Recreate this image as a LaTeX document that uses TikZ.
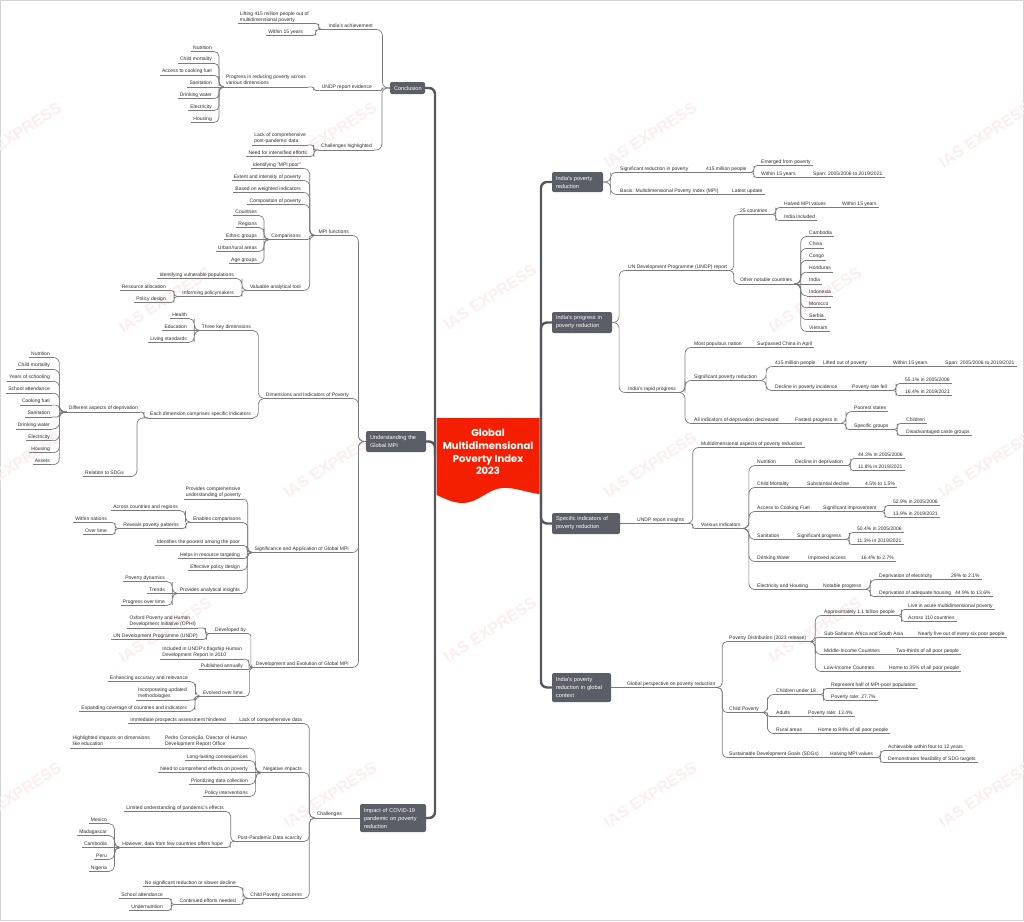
\documentclass[tikz,border=0pt]{standalone}
\usepackage{fontspec}
\setmainfont{Liberation Sans}
\newfontfamily\titlefont{Poppins}
\usetikzlibrary{calc}
\definecolor{txt}{HTML}{2B2B2B}
\definecolor{cnc}{HTML}{7B7B7B}
\definecolor{trunkc}{HTML}{55575F}
\definecolor{boxc}{HTML}{5C5E67}
\definecolor{rootred}{HTML}{F41F00}
\definecolor{wmc}{HTML}{FCEEEE}
\definecolor{framec}{HTML}{D4D4D4}
\tikzset{
 lf/.style={font=\fontsize{5}{6}\selectfont, text=txt, inner xsep=2pt, inner ysep=0.7pt, align=left, execute at end node={\rule[-1.6pt]{0pt}{1pt}}},
 ul/.style={draw=cnc, line width=0.7pt},
 cnline/.style={draw=cnc, line width=0.7pt},
 trunk/.style={draw=trunkc, line width=2.4pt, rounded corners=6pt},
 box/.style={fill=boxc, rounded corners=2pt, text=white, font=\fontsize{5.6}{8}\selectfont, align=left, inner xsep=4pt, inner ysep=2pt},
 wm/.style={text=wmc, font=\fontsize{16}{16}\selectfont\bfseries, rotate=33},
}
\newcommand\nR[4]{\node[lf,anchor=south west] (#1) at ({#2-2},#3) {#4};\draw[ul] (#1.south west)--(#1.south east);}
\newcommand\nL[4]{\node[lf,anchor=south east] (#1) at ({#2+2},#3) {#4};\draw[ul] (#1.south west)--(#1.south east);}
\newcommand\kon[2]{%
  \path (#1) coordinate (cnA) (#2) coordinate (cnB);%
  \pgfpointdiff{\pgfpointanchor{cnA}{center}}{\pgfpointanchor{cnB}{center}}%
  \pgfgetlastxy{\mdx}{\mdy}%
  \pgfmathsetmacro\ady{abs(\mdy)}%
  \pgfmathsetmacro\adx{abs(\mdx)}%
  \ifdim\ady pt<0.8pt
    \draw[cnline] (cnA) -- (cnB);%
  \else
    \pgfmathsetmacro\rr{min(6,\ady/2,\adx/2)}%
    \draw[cnline,rounded corners=\rr pt] (cnA) -| ($(cnA)!.5!(cnB)$) |- (cnB);%
  \fi}
\newcommand\kR[2]{\kon{#1.south east}{#2.south west}}
\newcommand\kL[2]{\kon{#1.south west}{#2.south east}}
\begin{document}
\begin{tikzpicture}[x=1pt,y=-1pt]
\useasboundingbox (0,0) rectangle (1024,921);
\draw[framec, line width=0.8pt] (0.5,0.5) rectangle (1023.5,920.5);
% watermarks
\foreach \wx/\wy [count=\i] in {15/135, 330/135, 650/135, 985/135, 165/300, 490/297, 815/300, 15/465, 330/465, 650/465, 985/465, 165/630, 490/630, 815/630, 15/795, 330/795, 650/795, 985/795}
  {\node[wm] (wm\i) at (\wx,\wy) {IAS EXPRESS};}

% boxes
\node[box, minimum height=12pt, text width=27pt] (L1) at (407.5,88) {Conclusion};
\node[box, minimum height=21pt, text width=52pt] (L2) at (396,441.5) {Understanding the\\Global MPI};
\node[box, minimum height=28pt, text width=58pt] (L3) at (393,818) {Impact of COVID-19\\pandemic on poverty\\reduction};
\node[box, minimum height=20pt, text width=43pt] (B1) at (577.5,182) {India's poverty\\reduction};
\node[box, minimum height=21pt, text width=52pt] (B2) at (582,322.5) {India's progress in\\poverty reduction};
\node[box, minimum height=21pt, text width=60pt] (B3) at (586,523.5) {Specific indicators of\\poverty reduction};
\node[box, minimum height=29pt, text width=51pt] (B4) at (581.5,687.5) {India's poverty\\reduction in global\\context};

% trunks
\draw[trunk] (541,455) |- (B1.west);
\draw[trunk] (541,455) |- (B2.west);
\draw[trunk] (541,455) |- (B3.west);
\draw[trunk] (541,455) |- (B4.west);
\draw[trunk] (435,455) |- (L1.east);
\draw[trunk] (435,455) |- (L2.east);
\draw[trunk] (435,455) |- (L3.east);

% root
\fill[rootred] (436.5,418) -- (539.5,418) -- (539.5,494) .. controls (528,493) and (515,487) .. (502,488) .. controls (488,489) and (478,503) .. (463,503) .. controls (452,503) and (444,498) .. (436.5,495) -- cycle;
\node[font=\titlefont\bfseries\fontsize{10}{12.7}\selectfont, text=white, align=center] (root) at (488,452) {Global\\Multidimensional\\Poverty Index\\2023};

% ===== Right: India's poverty reduction
\nR{a1}{620}{172.5}{Significant reduction in poverty}
\nR{a11}{706}{172.5}{415 million people}
\nR{a111}{761}{165.5}{Emerged from poverty}
\nR{a112}{761}{177.5}{Within 15 years}
\nR{a1121}{813}{177.5}{Span: 2005/2006 to 2019/2021}
\nR{a2}{620}{194.5}{Basis: Multidimensional Poverty Index (MPI)}
\nR{a21}{732}{194.5}{Latest update}
\kon{B1.east}{a1.south west}\kon{B1.east}{a2.south west}
\kR{a1}{a11}\kR{a11}{a111}\kR{a11}{a112}\kR{a112}{a1121}\kR{a2}{a21}

% ===== Right: India's progress
\nR{b1}{628}{270.5}{UN Development Programme (UNDP) report}
\nR{b11}{740}{214.5}{25 countries}
\nR{b111}{784}{207.5}{Halved MPI values}
\nR{b1111}{842}{207.5}{Within 15 years}
\nR{b112}{784}{220.5}{India included}
\nR{b12}{740}{284}{Other notable countries}
\nR{bc1}{809}{236.5}{Cambodia}
\nR{bc2}{809}{248.4}{China}
\nR{bc3}{809}{260.3}{Congo}
\nR{bc4}{809}{272.1}{Honduras}
\nR{bc5}{809}{284}{India}
\nR{bc6}{809}{295.9}{Indonesia}
\nR{bc7}{809}{307.8}{Morocco}
\nR{bc8}{809}{319.6}{Serbia}
\nR{bc9}{809}{331.5}{Vietnam}
\nR{b2}{628}{392.5}{India's rapid progress}
\nR{b21}{694}{347.5}{Most populous nation}
\nR{b211}{757}{347.5}{Surpassed China in April}
\nR{b22}{694}{380.5}{Significant poverty reduction}
\nR{b221}{775}{366.5}{415 million people}
\nR{b2211}{823}{366.5}{Lifted out of poverty}
\nR{b22111}{893}{366.5}{Within 15 years}
\nR{b221111}{945}{366.5}{Span: 2005/2006 to 2019/2021}
\nR{b222}{775}{390.5}{Decline in poverty incidence}
\nR{b2221}{852}{390.5}{Poverty rate fell}
\nR{b22211}{905}{383.5}{55.1\% in 2005/2006}
\nR{b22212}{905}{395.5}{16.4\% in 2019/2021}
\nR{b23}{694}{423.5}{All indicators of deprivation decreased}
\nR{b231}{795}{423.5}{Fastest progress in}
\nR{b2311}{854}{411.5}{Poorest states}
\nR{b2312}{854}{429.5}{Specific groups}
\nR{b23121}{906}{423.5}{Children}
\nR{b23122}{906}{435.5}{Disadvantaged caste groups}
\kon{B2.east}{b1.south west}\kon{B2.east}{b2.south west}
\kR{b1}{b11}\kR{b11}{b111}\kR{b111}{b1111}\kR{b11}{b112}\kR{b1}{b12}
\foreach \i in {1,...,9}{\kR{b12}{bc\i}}
\kR{b2}{b21}\kR{b21}{b211}\kR{b2}{b22}\kR{b22}{b221}\kR{b221}{b2211}\kR{b2211}{b22111}\kR{b22111}{b221111}
\kR{b22}{b222}\kR{b222}{b2221}\kR{b2221}{b22211}\kR{b2221}{b22212}
\kR{b2}{b23}\kR{b23}{b231}\kR{b231}{b2311}\kR{b231}{b2312}\kR{b2312}{b23121}\kR{b2312}{b23122}

% ===== Right: Specific indicators
\nR{c1}{637}{523.5}{UNDP report insights}
\nR{c11}{701}{447.5}{Multidimensional aspects of poverty reduction}
\nR{c12}{701}{528.5}{Various indicators}
\nR{c121}{757}{465.5}{Nutrition}
\nR{c1211}{795}{465.5}{Decline in deprivation}
\nR{c12111}{858}{458.5}{44.3\% in 2005/2006}
\nR{c12112}{858}{470.5}{11.8\% in 2019/2021}
\nR{c122}{757}{487.5}{Child Mortality}
\nR{c1221}{807}{487.5}{Substantial decline}
\nR{c12211}{865}{487.5}{4.5\% to 1.5\%}
\nR{c123}{757}{511.5}{Access to Cooking Fuel}
\nR{c1231}{823}{511.5}{Significant improvement}
\nR{c12311}{893}{505.5}{52.9\% in 2005/2006}
\nR{c12312}{893}{517.5}{13.9\% in 2019/2021}
\nR{c124}{757}{539.5}{Sanitation}
\nR{c1241}{797}{539.5}{Significant progress}
\nR{c12411}{857}{532.5}{50.4\% in 2005/2006}
\nR{c12412}{857}{544.5}{11.3\% in 2019/2021}
\nR{c125}{757}{561.5}{Drinking Water}
\nR{c1251}{808}{561.5}{Improved access}
\nR{c12511}{861}{561.5}{16.4\% to 2.7\%}
\nR{c126}{757}{589.5}{Electricity and Housing}
\nR{c1261}{823}{589.5}{Notable progress}
\nR{c12611}{879}{579.5}{Deprivation of electricity}
\nR{c126111}{951}{579.5}{29\% to 2.1\%}
\nR{c12612}{879}{596.5}{Deprivation of adequate housing}
\nR{c126121}{955}{596.5}{44.9\% to 13.6\%}
\kon{B3.east}{c1.south west}
\kR{c1}{c11}\kR{c1}{c12}
\foreach \i in {1,...,6}{\kR{c12}{c12\i}}
\kR{c121}{c1211}\kR{c1211}{c12111}\kR{c1211}{c12112}
\kR{c122}{c1221}\kR{c1221}{c12211}
\kR{c123}{c1231}\kR{c1231}{c12311}\kR{c1231}{c12312}
\kR{c124}{c1241}\kR{c1241}{c12411}\kR{c1241}{c12412}
\kR{c125}{c1251}\kR{c1251}{c12511}
\kR{c126}{c1261}\kR{c1261}{c12611}\kR{c12611}{c126111}\kR{c1261}{c12612}\kR{c12612}{c126121}

% ===== Right: global context
\nR{d1}{627}{687.5}{Global perspective on poverty reduction}
\nR{d11}{729}{641.5}{Poverty Distribution (2023 release)}
\nR{d111}{824}{615.5}{Approximately 1.1 billion people}
\nR{d1111}{908}{609.5}{Live in acute multidimensional poverty}
\nR{d1112}{908}{621.5}{Across 110 countries}
\nR{d112}{824}{637.5}{Sub-Saharan Africa and South Asia}
\nR{d1121}{918}{637.5}{Nearly five out of every six poor people}
\nR{d113}{824}{654.5}{Middle-Income Countries}
\nR{d1131}{896}{654.5}{Two-thirds of all poor people}
\nR{d114}{824}{671.5}{Low-Income Countries}
\nR{d1141}{889}{671.5}{Home to 35\% of all poor people}
\nR{d12}{729}{712.5}{Child Poverty}
\nR{d121}{776}{694.5}{Children under 18}
\nR{d1211}{831}{688.5}{Represent half of MPI-poor population}
\nR{d1212}{831}{700.5}{Poverty rate: 27.7\%}
\nR{d122}{776}{716.5}{Adults}
\nR{d1221}{808}{716.5}{Poverty rate: 13.4\%}
\nR{d123}{776}{733.5}{Rural areas}
\nR{d1231}{818}{733.5}{Home to 84\% of all poor people}
\nR{d13}{729}{757.5}{Sustainable Development Goals (SDGs)}
\nR{d131}{830}{757.5}{Halving MPI values}
\nR{d1311}{888}{750.5}{Achievable within four to 12 years}
\nR{d1312}{888}{762.5}{Demonstrates feasibility of SDG targets}
\kon{B4.east}{d1.south west}
\kR{d1}{d11}\kR{d11}{d111}\kR{d111}{d1111}\kR{d111}{d1112}\kR{d11}{d112}\kR{d112}{d1121}
\kR{d11}{d113}\kR{d113}{d1131}\kR{d11}{d114}\kR{d114}{d1141}
\kR{d1}{d12}\kR{d12}{d121}\kR{d121}{d1211}\kR{d121}{d1212}\kR{d12}{d122}\kR{d122}{d1221}\kR{d12}{d123}\kR{d123}{d1231}
\kR{d1}{d13}\kR{d13}{d131}\kR{d131}{d1311}\kR{d131}{d1312}

% ===== Left: Conclusion
\nL{e1}{373}{29.5}{India's achievement}
\nL{e11}{309}{23.5}{Lifting 415 million people out of\\multidimensional poverty}
\nL{e12}{303}{35.5}{Within 15 years}
\nL{e2}{372}{90.5}{UNDP report evidence}
\nL{e21}{306}{87}{Progress in reducing poverty across\\various dimensions}
\nL{en1}{212}{51.5}{Nutrition}
\nL{en2}{212}{63.3}{Child mortality}
\nL{en3}{212}{75.2}{Access to cooking fuel}
\nL{en4}{212}{87}{Sanitation}
\nL{en5}{212}{98.8}{Drinking water}
\nL{en6}{212}{110.7}{Electricity}
\nL{en7}{212}{122.5}{Housing}
\nL{e3}{372}{150}{Challenges highlighted}
\nL{e31}{306}{145}{Lack of comprehensive\\post-pandemic data}
\nL{e32}{307}{156.5}{Need for intensified efforts}
\kon{L1.west}{e1.south east}\kon{L1.west}{e2.south east}\kon{L1.west}{e3.south east}
\kL{e1}{e11}\kL{e1}{e12}\kL{e2}{e21}
\foreach \i in {1,...,7}{\kL{e21}{en\i}}
\kL{e3}{e31}\kL{e3}{e32}

% ===== Left: Understanding the Global MPI
\nL{f1}{349}{235.5}{MPI functions}
\nL{f11}{301}{168.5}{Identifying "MPI poor"}
\nL{f12}{301}{180.5}{Extent and intensity of poverty}
\nL{f13}{301}{192.5}{Based on weighted indicators}
\nL{f14}{301}{204.5}{Composition of poverty}
\nL{f15}{301}{239.5}{Comparisons}
\nL{f151}{257}{215.5}{Countries}
\nL{f152}{257}{227.5}{Regions}
\nL{f153}{257}{239.5}{Ethnic groups}
\nL{f154}{257}{251.5}{Urban/rural areas}
\nL{f155}{257}{263.5}{Age groups}
\nL{f16}{301}{290.5}{Valuable analytical tool}
\nL{f161}{234}{278.5}{Identifying vulnerable populations}
\nL{f162}{234}{296.5}{Informing policymakers}
\nL{f1621}{166}{290.5}{Resource allocation}
\nL{f1622}{166}{302.5}{Policy design}
\kon{L2.west}{f1.south east}
\foreach \i in {1,...,6}{\kL{f1}{f1\i}}
\foreach \i in {1,...,5}{\kL{f15}{f15\i}}
\kL{f16}{f161}\kL{f16}{f162}\kL{f162}{f1621}\kL{f162}{f1622}

\nL{f2}{349}{398.5}{Dimensions and Indicators of Poverty}
\nL{f21}{251}{330.5}{Three key dimensions}
\nL{f211}{187}{318.5}{Health}
\nL{f212}{187}{330.5}{Education}
\nL{f213}{187}{342.5}{Living standards}
\nL{f22}{251}{418}{Each dimension comprises specific indicators}
\nL{f221}{138}{412}{Different aspects of deprivation}
\nL{fd1}{50}{357.5}{Nutrition}
\nL{fd2}{50}{369.4}{Child mortality}
\nL{fd3}{50}{381.3}{Years of schooling}
\nL{fd4}{50}{393.2}{School attendance}
\nL{fd5}{50}{405.1}{Cooking fuel}
\nL{fd6}{50}{417}{Sanitation}
\nL{fd7}{50}{428.9}{Drinking water}
\nL{fd8}{50}{440.8}{Electricity}
\nL{fd9}{50}{452.7}{Housing}
\nL{fd10}{50}{464.6}{Assets}
\nL{f222}{124}{476.5}{Relation to SDGs}
\kon{L2.west}{f2.south east}
\kL{f2}{f21}\kL{f21}{f211}\kL{f21}{f212}\kL{f21}{f213}
\kL{f2}{f22}\kL{f22}{f221}\kL{f22}{f222}
\foreach \i in {1,...,10}{\kL{f221}{fd\i}}

\nL{f3}{349}{552.5}{Significance and Application of Global MPI}
\nL{f31}{241}{499}{Provides comprehensive\\understanding of poverty}
\nL{f32}{241}{522.5}{Enables comparisons}
\nL{f321}{178}{510.5}{Across countries and regions}
\nL{f322}{179}{528.5}{Reveals poverty patterns}
\nL{f3221}{107}{522.5}{Within nations}
\nL{f3222}{107}{534.5}{Over time}
\nL{f33}{240}{545.5}{Identifies the poorest among the poor}
\nL{f34}{240}{558.5}{Helps in resource targeting}
\nL{f35}{240}{570.5}{Effective policy design}
\nL{f36}{240}{593.5}{Provides analytical insights}
\nL{f361}{165}{581.5}{Poverty dynamics}
\nL{f362}{165}{593.5}{Trends}
\nL{f363}{165}{605.5}{Progress over time}
\kon{L2.west}{f3.south east}
\foreach \i in {1,...,6}{\kL{f3}{f3\i}}
\kL{f32}{f321}\kL{f32}{f322}\kL{f322}{f3221}\kL{f322}{f3222}
\kL{f36}{f361}\kL{f36}{f362}\kL{f36}{f363}

\nL{f4}{349}{667.5}{Development and Evolution of Global MPI}
\nL{f41}{246}{633.5}{Developed by}
\nL{f411}{196}{628}{Oxford Poverty and Human\\Development Initiative (OPHI)}
\nL{f412}{198}{639.5}{UN Development Programme (UNDP)}
\nL{f42}{242}{659}{Included in UNDP's flagship Human\\Development Report in 2010}
\nL{f43}{243}{669.5}{Published annually}
\nL{f44}{243}{696.5}{Evolved over time}
\nL{f441}{188}{681.5}{Enhancing accuracy and relevance}
\nL{f442}{187}{700}{Incorporating updated\\methodologies}
\nL{f443}{187}{711.5}{Expanding coverage of countries and indicators}
\kon{L2.west}{f4.south east}
\foreach \i in {1,...,4}{\kL{f4}{f4\i}}
\kL{f41}{f411}\kL{f41}{f412}
\kL{f44}{f441}\kL{f44}{f442}\kL{f44}{f443}

% ===== Left: Impact of COVID-19
\nL{g1}{342}{818}{Challenges}
\nL{g11}{302}{723.5}{Lack of comprehensive data}
\nL{g111}{226}{723.5}{Immediate prospects assessment hindered}
\nL{g12}{302}{772.5}{Negative impacts}
\nL{g121}{247}{748}{Pedro Conceição, Director of Human\\Development Report Office}
\nL{g1211}{150}{748}{Highlighted impacts on dimensions\\like education}
\nL{g122}{248}{760.5}{Long-lasting consequences}
\nL{g123}{248}{772.5}{Need to comprehend effects on poverty}
\nL{g124}{248}{784.5}{Prioritizing data collection}
\nL{g125}{248}{796.5}{Policy interventions}
\nL{g13}{302}{841.5}{Post-Pandemic Data scarcity}
\nL{g131}{224}{811.5}{Limited understanding of pandemic's effects}
\nL{g132}{223}{847.5}{However, data from few countries offers hope}
\nL{g1321}{107}{823.5}{Mexico}
\nL{g1322}{107}{835.5}{Madagascar}
\nL{g1323}{107}{847.5}{Cambodia}
\nL{g1324}{107}{859.5}{Peru}
\nL{g1325}{107}{871.5}{Nigeria}
\nL{g14}{302}{898.5}{Child Poverty concerns}
\nL{g141}{236}{886.5}{No significant reduction or slower decline}
\nL{g142}{236}{904.5}{Continued efforts needed}
\nL{g1421}{163}{898.5}{School attendance}
\nL{g1422}{163}{910.5}{Undernutrition}
\kon{L3.west}{g1.south east}
\foreach \i in {1,...,4}{\kL{g1}{g1\i}}
\kL{g11}{g111}
\foreach \i in {1,...,5}{\kL{g12}{g12\i}}
\kL{g121}{g1211}
\kL{g13}{g131}\kL{g13}{g132}
\foreach \i in {1,...,5}{\kL{g132}{g132\i}}
\kL{g14}{g141}\kL{g14}{g142}\kL{g142}{g1421}\kL{g142}{g1422}
\end{tikzpicture}
\end{document}
